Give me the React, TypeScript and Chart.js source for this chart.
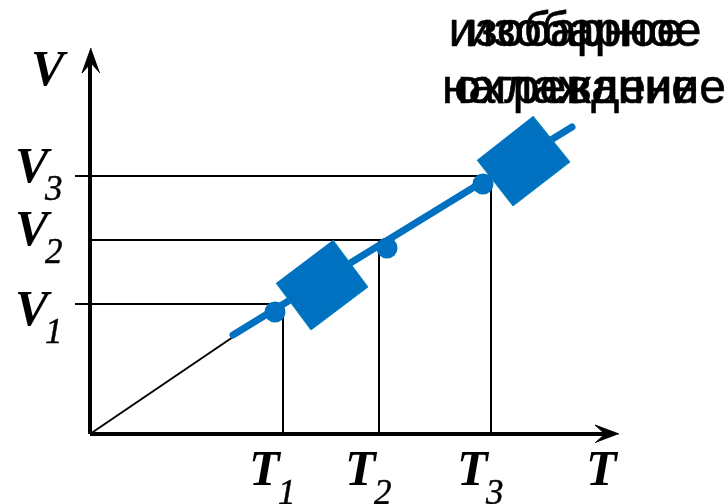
import { useEffect, useRef } from "react";
import { Chart, registerables } from "chart.js";

Chart.register(...registerables);

type P = { x: number; y: number };
const pts = (a: number[][]): P[] => a.map(([x, y]) => ({ x, y }));

// Values on the unitless T and V axes (origin at 0,0)
const tTicks = [193, 289, 401];
const vTicks = [130, 194, 258];
const tLabels = ["T", "T", "T"];
const tSubs = ["1", "2", "3"];
const vLabels = ["V", "V", "V"];
const vSubs = ["1", "2", "3"];
const statePoints = [[185, 122], [297, 186], [393, 250]];
const processLine = [[143, 99], [482, 307]];
const originLine = [[0, 0], [143, 97]];
const xAxisLine = [[0, 0], [516, 0]];
const yAxisLine = [[0, 0], [0, 372]];
const xArrow = [[529, 0], [505, 9], [515, 0], [505, -9]];
const yArrow = [[1, 386], [-8, 361], [1, 371], [10, 361]];
const piston1 = [[243, 194], [278, 147], [221, 104], [186, 151]];
const piston2 = [[443, 318], [480, 272], [423, 228], [387, 274]];
const captionLines = [
  ["изобарное", "изобарное"],
  ["нагревание", "охлаждение"],
];

const BLUE = "#0070C0";
const EDGE = "#0B87B5";
const SERIF = '"Liberation Serif", serif';

function App() {
  const ref = useRef<HTMLCanvasElement>(null);
  useEffect(() => {
    const seg = (a: number[][], width: number, color = "#000", order = 5) => ({
      data: pts(a),
      showLine: true,
      borderColor: color,
      borderWidth: width,
      pointRadius: 0,
      borderCapStyle: "butt" as const,
      order,
    });
    const poly = (a: number[][], color: string, edge: string, order: number) => ({
      data: pts(a),
      showLine: true,
      fill: "shape" as const,
      backgroundColor: color,
      borderColor: edge,
      borderWidth: 1,
      pointRadius: 0,
      order,
    });
    const guides = [
      ...[0, 1, 2].map((i) =>
        seg([[i === 1 ? 0 : -15, vTicks[i]], [statePoints[i][0], vTicks[i]]], 2)
      ),
      ...[0, 1, 2].map((i) => seg([[tTicks[i], 0], [tTicks[i], vTicks[i]]], 2)),
    ];
    const labelsPlugin = {
      id: "labels",
      afterDatasetsDraw(c: any) {
        const g = c.ctx;
        const sx = c.scales.x;
        const sy = c.scales.y;
        g.save();
        g.fillStyle = "#000";
        g.strokeStyle = "#000";
        g.textAlign = "left";
        g.textBaseline = "alphabetic";
        const big = `italic bold 50px ${SERIF}`;
        const small = `italic 35px ${SERIF}`;
        const put = (t: string, x: number, y: number, f: string, w = 0) => {
          g.font = f;
          g.fillText(t, x, y);
          if (w) {
            g.lineWidth = w;
            g.strokeText(t, x, y);
          }
        };
        tTicks.forEach((v, i) => {
          const x = sx.getPixelForValue(v);
          put(tLabels[i], x - 34, 485, big);
          put(tSubs[i], x - 5, 504, small, 0.5);
        });
        vTicks.forEach((v, i) => {
          const y = sy.getPixelForValue(v);
          put(vLabels[i], 15, y + [21, 5, 6][i], big);
          put(vSubs[i], 45, y + [39, 23, 24][i], small, 0.5);
        });
        put("V", 31, 85, big);
        put("T", 586, 485, big);
        g.textAlign = "center";
        const capFont = '48px "Liberation Sans", sans-serif';
        const offs = [[-9, 9], [-10, 10]];
        const centers = [575, 580];
        captionLines.forEach((line, r) => {
          line.forEach((t, k) => {
            put(t, centers[r] + offs[r][k], r === 0 ? 46 : 103, capFont, 0.6);
          });
        });
        g.restore();
      },
    };
    const chart = new Chart(ref.current!, {
      type: "scatter",
      data: {
        datasets: [
          {
            data: pts(statePoints),
            pointRadius: 10.5,
            pointHoverRadius: 10.5,
            pointBackgroundColor: BLUE,
            pointBorderWidth: 0,
            showLine: false,
            order: 0,
          },
          poly(piston1, BLUE, EDGE, 1),
          poly(piston2, BLUE, EDGE, 1),
          { ...seg(processLine, 7, BLUE, 2), borderCapStyle: "round" as const },
          seg(originLine, 2, "#000", 3),
          seg(xAxisLine, 4, "#000", 4),
          seg(yAxisLine, 4, "#000", 4),
          poly(xArrow, "#000", "#000", 4),
          poly(yArrow, "#000", "#000", 4),
          ...guides,
        ] as any,
      },
      options: {
        animation: false,
        responsive: false,
        layout: { padding: 0, autoPadding: false },
        plugins: { legend: { display: false }, tooltip: { enabled: false } },
        scales: {
          x: { type: "linear", display: false, min: -90, max: 635 },
          y: { type: "linear", display: false, min: -70, max: 434 },
        },
      },
      plugins: [labelsPlugin],
    });
    return () => chart.destroy();
  }, []);
  return (
    <div style={{ position: "absolute", left: 0, top: 0, width: 725, height: 504 }}>
      <canvas ref={ref} width={725} height={504} style={{ display: "block" }} />
    </div>
  );
}

export default App;
